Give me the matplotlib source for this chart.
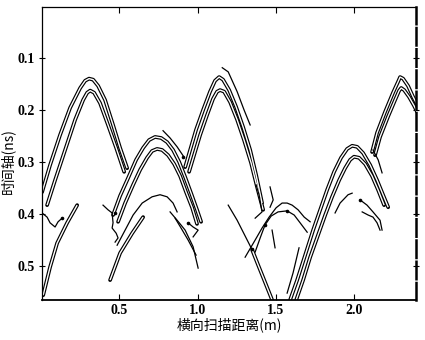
import matplotlib
matplotlib.use("Agg")
import matplotlib.pyplot as plt

# ---------------- data ----------------
# double-edged (white-core) hyperbola bands: (x in m, t in ns)
h1_outer_x = [0.008, 0.059, 0.123, 0.187, 0.251, 0.283, 0.308, 0.334, 0.366, 0.410, 0.461, 0.506, 0.551]
h1_outer_t = [0.358, 0.306, 0.248, 0.196, 0.158, 0.144, 0.140, 0.142, 0.154, 0.181, 0.229, 0.273, 0.312]
h1_inner_x = [0.040, 0.091, 0.155, 0.219, 0.270, 0.296, 0.315, 0.340, 0.378, 0.429, 0.481, 0.532]
h1_inner_t = [0.383, 0.335, 0.277, 0.219, 0.181, 0.167, 0.163, 0.167, 0.187, 0.229, 0.273, 0.319]

h2_outer_x = [0.461, 0.506, 0.557, 0.608, 0.653, 0.691, 0.729, 0.768, 0.806, 0.844, 0.883, 0.921, 0.959, 0.997, 1.023]
h2_outer_t = [0.402, 0.365, 0.331, 0.296, 0.273, 0.258, 0.252, 0.254, 0.262, 0.277, 0.300, 0.329, 0.360, 0.392, 0.415]
h2_inner_x = [0.493, 0.538, 0.589, 0.634, 0.678, 0.710, 0.742, 0.774, 0.812, 0.851, 0.889, 0.927, 0.966, 0.997]
h2_inner_t = [0.415, 0.379, 0.344, 0.315, 0.292, 0.279, 0.275, 0.277, 0.287, 0.304, 0.327, 0.358, 0.388, 0.419]

h4_outer_x = [0.921, 0.953, 0.991, 1.036, 1.080, 1.112, 1.138, 1.163, 1.202, 1.246, 1.291, 1.336, 1.374, 1.412]
h4_outer_t = [0.310, 0.277, 0.238, 0.200, 0.165, 0.144, 0.137, 0.142, 0.162, 0.194, 0.233, 0.277, 0.325, 0.379]
h4_inner_x = [0.946, 0.978, 1.017, 1.061, 1.099, 1.125, 1.144, 1.170, 1.208, 1.253, 1.297, 1.342, 1.380, 1.419]
h4_inner_t = [0.319, 0.287, 0.248, 0.210, 0.179, 0.165, 0.162, 0.165, 0.185, 0.219, 0.258, 0.302, 0.348, 0.392]

h5_outer_x = [1.591, 1.636, 1.687, 1.738, 1.783, 1.827, 1.872, 1.916, 1.955, 1.987, 2.019, 2.057, 2.102, 2.146, 2.184, 2.217]
h5_outer_t = [0.565, 0.527, 0.479, 0.431, 0.392, 0.354, 0.319, 0.292, 0.275, 0.269, 0.271, 0.283, 0.306, 0.335, 0.363, 0.387]
h5_inner_x = [1.630, 1.674, 1.719, 1.770, 1.815, 1.859, 1.904, 1.942, 1.974, 1.999, 2.031, 2.070, 2.114, 2.153, 2.191]
h5_inner_t = [0.565, 0.527, 0.483, 0.440, 0.402, 0.367, 0.335, 0.312, 0.296, 0.290, 0.292, 0.304, 0.327, 0.354, 0.383]

h7_outer_x = [2.114, 2.146, 2.197, 2.248, 2.280, 2.293, 2.312, 2.344, 2.376, 2.402]
h7_outer_t = [0.281, 0.244, 0.204, 0.167, 0.146, 0.137, 0.140, 0.154, 0.175, 0.190]
h7_inner_x = [2.133, 2.165, 2.216, 2.261, 2.287, 2.300, 2.319, 2.350, 2.382, 2.402]
h7_inner_t = [0.287, 0.252, 0.213, 0.181, 0.163, 0.158, 0.162, 0.175, 0.192, 0.204]

band_left_x = [0.015, 0.059, 0.104, 0.168, 0.232]
band_left_t = [0.556, 0.502, 0.456, 0.417, 0.383]
band_h3_x = [0.442, 0.506, 0.583, 0.653]
band_h3_t = [0.527, 0.475, 0.437, 0.406]
band_low_x = [1.349, 1.387, 1.431, 1.476]
band_low_t = [0.469, 0.498, 0.531, 0.565]

# single thin traces
h3_arc_x = [0.487, 0.538, 0.589, 0.647, 0.710, 0.761, 0.806, 0.844, 0.870]
h3_arc_t = [0.460, 0.431, 0.402, 0.379, 0.367, 0.363, 0.367, 0.379, 0.396]
h3_ra_x = [0.825, 0.870, 0.921, 0.972, 1.004]
h3_ra_t = [0.396, 0.412, 0.431, 0.463, 0.504]
h3_rb_x = [0.857, 0.895, 0.940, 0.991]
h3_rb_t = [0.408, 0.427, 0.450, 0.479]
h6_arc_x = [1.304, 1.368, 1.412, 1.457, 1.502, 1.540, 1.572, 1.604, 1.642, 1.681, 1.719]
h6_arc_t = [0.483, 0.450, 0.427, 0.406, 0.388, 0.379, 0.379, 0.383, 0.392, 0.406, 0.415]
h6_in_x = [1.368, 1.400, 1.431, 1.470, 1.514, 1.572, 1.617, 1.655, 1.700]
h6_in_t = [0.473, 0.446, 0.421, 0.404, 0.396, 0.394, 0.402, 0.417, 0.435]
cross_x = [1.196, 1.253, 1.317, 1.349]
cross_t = [0.383, 0.412, 0.450, 0.469]
h2_extra_x = [0.780, 0.825, 0.870, 0.908]
h2_extra_t = [0.240, 0.254, 0.271, 0.288]
h4_extra_x = [1.158, 1.196, 1.253, 1.297, 1.336]
h4_extra_t = [0.119, 0.127, 0.165, 0.200, 0.229]
wavy_x = [0.008, 0.040, 0.059, 0.091, 0.110, 0.136]
wavy_t = [0.398, 0.406, 0.417, 0.425, 0.415, 0.408]
loop_x = [0.397, 0.429, 0.455, 0.461, 0.455, 0.481, 0.493, 0.474]
loop_t = [0.383, 0.392, 0.398, 0.417, 0.427, 0.437, 0.446, 0.454]
hook_x = [0.940, 0.972, 1.004, 0.972]
hook_t = [0.417, 0.425, 0.431, 0.444]
short1_x = [1.572, 1.610, 1.648]
short1_t = [0.552, 0.513, 0.465]
short2_x = [2.120, 2.153, 2.178]
short2_t = [0.277, 0.296, 0.321]
h8a_x = [1.878, 1.910, 1.961, 1.987]
h8a_t = [0.398, 0.379, 0.363, 0.360]
h8b_x = [2.038, 2.082, 2.120, 2.165, 2.178]
h8b_t = [0.373, 0.383, 0.396, 0.412, 0.431]
h8c_x = [2.051, 2.089, 2.120, 2.146, 2.165]
h8c_t = [0.396, 0.402, 0.406, 0.417, 0.431]
sq1_x = [1.374, 1.393, 1.412, 1.368]
sq1_t = [0.344, 0.363, 0.396, 0.408]
sq2_x = [1.463, 1.483, 1.463]
sq2_t = [0.348, 0.373, 0.387]
sq3_x = [1.476, 1.495]
sq3_t = [0.431, 0.465]

dot_x = [0.136, 0.474, 0.908, 0.940, 1.349, 1.431, 1.572, 2.038]
dot_t = [0.408, 0.398, 0.290, 0.417, 0.467, 0.421, 0.394, 0.373]

x_ticks = [0.5, 1.0, 1.5, 2.0]
x_ticklabels = ["0.5", "1.0", "1.5", "2.0"]
y_ticks = [0.1, 0.2, 0.3, 0.4, 0.5]
y_ticklabels = ["0.1", "0.2", "0.3", "0.4", "0.5"]
x_label = "横向扫描距离(m)"
y_label = "时间轴(ns)"

# ---------------- figure ----------------
fig = plt.figure(figsize=(4.25, 3.4), dpi=100)
ax = fig.add_axes([0.099, 0.118, 0.880, 0.862])
ax.set_xlim(0.008, 2.395)
ax.set_ylim(0.565, 0.002)

bands = [
    (h1_outer_x, h1_outer_t), (h1_inner_x, h1_inner_t),
    (h2_outer_x, h2_outer_t), (h2_inner_x, h2_inner_t),
    (h4_outer_x, h4_outer_t), (h4_inner_x, h4_inner_t),
    (h5_outer_x, h5_outer_t), (h5_inner_x, h5_inner_t),
    (h7_outer_x, h7_outer_t), (h7_inner_x, h7_inner_t),
    (band_left_x, band_left_t), (band_h3_x, band_h3_t),
    (band_low_x, band_low_t),
]
for bx, bt in bands:
    ax.plot(bx, bt, color="black", lw=2.7, solid_joinstyle="round", solid_capstyle="round")
for bx, bt in bands:
    ax.plot(bx, bt, color="white", lw=1.0, solid_joinstyle="round", solid_capstyle="butt")

singles = [
    (h3_arc_x, h3_arc_t), (h3_ra_x, h3_ra_t), (h3_rb_x, h3_rb_t),
    (h6_arc_x, h6_arc_t), (h6_in_x, h6_in_t), (cross_x, cross_t),
    (h2_extra_x, h2_extra_t), (h4_extra_x, h4_extra_t),
    (wavy_x, wavy_t), (loop_x, loop_t), (hook_x, hook_t),
    (short1_x, short1_t), (short2_x, short2_t),
    (h8a_x, h8a_t), (h8b_x, h8b_t), (h8c_x, h8c_t),
    (sq1_x, sq1_t), (sq2_x, sq2_t), (sq3_x, sq3_t),
]
for sx, st in singles:
    ax.plot(sx, st, color="black", lw=0.9, solid_joinstyle="round")

ax.plot(dot_x, dot_t, "o", color="black", ms=2.6, mew=0)

# ---------------- axes styling ----------------
tick_font = dict(family="Liberation Serif", weight="bold", size=10)
ax.set_xticks(x_ticks)
ax.set_xticklabels(x_ticklabels, **tick_font)
ax.set_yticks(y_ticks)
ax.set_yticklabels(y_ticklabels, **tick_font)
ax.tick_params(axis="x", direction="in", length=4, width=0.8, top=True, bottom=True, pad=3)
ax.tick_params(axis="y", direction="inout", length=4, width=0.8, left=True, right=True, pad=3)
for s in ["top", "left"]:
    ax.spines[s].set_linewidth(0.9)
ax.spines["bottom"].set_linewidth(1.3)
ax.spines["right"].set_linewidth(1.8)
ax.spines["right"].set_linestyle((0, (7, 1.5)))

ax.set_xlabel(x_label, family=["Noto Sans CJK SC", "DejaVu Sans"], size=10, labelpad=0)
ax.set_ylabel(y_label, family=["Noto Sans CJK SC", "DejaVu Sans"], size=10)
ax.yaxis.set_label_coords(-0.073, 0.475)

fig.savefig("out.png", dpi=100)
